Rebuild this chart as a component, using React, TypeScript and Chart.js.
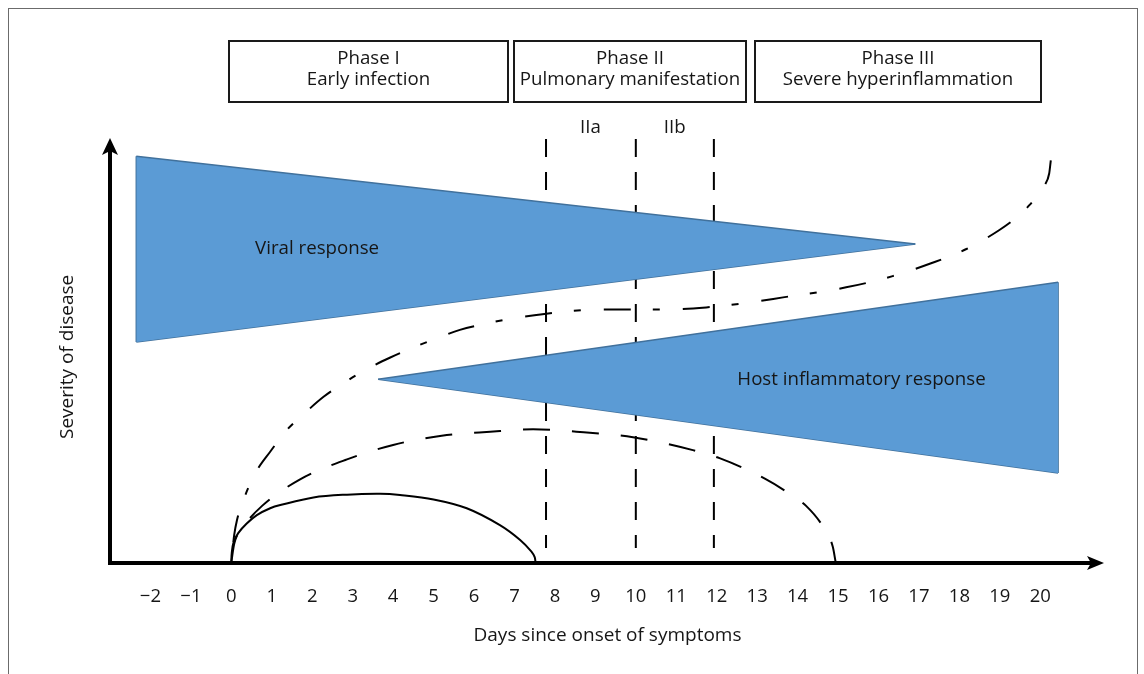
import React, { useEffect, useRef } from "react";
import { Chart, registerables } from "chart.js";

Chart.register(...registerables);

// ---- data ----
const xTickValues = [-2, -1, 0, 1, 2, 3, 4, 5, 6, 7, 8, 9, 10, 11, 12, 13, 14, 15, 16, 17, 18, 19, 20];
const xTickLabels = ["\u22122", "\u22121", "0", "1", "2", "3", "4", "5", "6", "7", "8", "9", "10", "11", "12", "13", "14", "15", "16", "17", "18", "19", "20"];

const viralX = [-2.35, 16.91];
const viralTopY = [10.12, 7.93];
const viralBottomY = [5.49, 7.93];

const hostX = [3.63, 20.44];
const hostTopY = [4.56, 6.98];
const hostBottomY = [4.56, 2.22];

const solidX = [0, 0.01, 0.05, 0.17, 0.38, 0.63, 0.96, 1.21, 2.03, 2.86, 3.68, 4.17, 5.0, 5.82, 6.64, 7.14, 7.42, 7.5, 7.52];
const solidY = [0, 0.22, 0.47, 0.72, 0.96, 1.17, 1.34, 1.42, 1.61, 1.68, 1.7, 1.67, 1.56, 1.34, 0.92, 0.55, 0.26, 0.12, 0];

const dashedX = [0, 0.07, 0.3, 0.76, 1.7, 2.86, 4.0, 5.2, 6.4, 7.46, 8.53, 9.93, 11.41, 12.07, 13.19, 13.76, 14.21, 14.63, 14.87, 14.94];
const dashedY = [0, 0.45, 0.88, 1.4, 2.06, 2.56, 2.92, 3.15, 3.25, 3.31, 3.25, 3.11, 2.79, 2.59, 2.08, 1.73, 1.4, 0.88, 0.38, 0];

const dashDotX = [0, 0.07, 0.14, 0.3, 0.59, 0.96, 1.37, 1.79, 2.28, 2.77, 3.35, 3.93, 4.5, 5.08, 5.65, 6.31, 6.97, 7.54, 8.2, 9.11, 9.93, 10.76, 11.74, 12.65, 13.64, 15.2, 16.35, 17.3, 18.16, 18.99, 19.48, 19.73, 20.11, 20.22, 20.26];
const dashDotY = [0, 0.67, 1.05, 1.55, 2.21, 2.75, 3.29, 3.69, 4.12, 4.46, 4.81, 5.1, 5.35, 5.58, 5.79, 5.95, 6.08, 6.16, 6.24, 6.3, 6.3, 6.3, 6.35, 6.45, 6.6, 6.85, 7.13, 7.45, 7.8, 8.28, 8.65, 8.9, 9.4, 9.69, 10.02];

const subphaseLineX = [7.78, 10, 11.93];
const subphaseLineY = [10.55, 0.35];
const subphaseLabels = ["IIa", "IIb"];
const subphaseLabelX = [8.88, 10.96];

const phaseTitles = ["Phase I", "Phase II", "Phase III"];
const phaseSubtitles = ["Early infection", "Pulmonary manifestation", "Severe hyperinflammation"];
const phaseStartX = [-0.05, 6.99, 12.94];
const phaseEndX = [6.84, 12.72, 20.02];

const regionLabels = ["Viral response", "Host inflammatory response"];
const regionLabelX = [2.12, 15.58];
const regionLabelY = [7.81, 4.54];

// ---- helpers ----
const pts = (xs: number[], ys: number[]) => xs.map((x, i) => ({ x, y: ys[i] }));

const FONT = "'Open Sans', 'Noto Sans', sans-serif";
const BLUE = "#5B9BD5";
const BLUE_EDGE = "#41719C";
const TEXT = "#161616";
const FS = 18.7;

const decorPlugin = {
  id: "decor",
  afterDatasetsDraw(chart: any) {
    const { ctx, chartArea, scales } = chart;
    const xs = scales.x;
    const ys = scales.y;
    ctx.save();

    // axes
    ctx.strokeStyle = "#000";
    ctx.fillStyle = "#000";
    ctx.lineWidth = 4;
    ctx.lineCap = "butt";
    const L = chartArea.left;
    const B = chartArea.bottom + 1;
    const T = chartArea.top + 1;
    const R = chartArea.right - 1;
    ctx.beginPath();
    ctx.moveTo(L - 2, B);
    ctx.lineTo(R - 12, B);
    ctx.stroke();
    ctx.beginPath();
    ctx.moveTo(L, B + 2);
    ctx.lineTo(L, T + 12);
    ctx.stroke();
    // x arrow
    ctx.beginPath();
    ctx.moveTo(R, B);
    ctx.lineTo(R - 17, B - 7);
    ctx.lineTo(R - 13, B);
    ctx.lineTo(R - 17, B + 7);
    ctx.closePath();
    ctx.fill();
    // y arrow
    ctx.beginPath();
    ctx.moveTo(L, T);
    ctx.lineTo(L - 8, T + 17);
    ctx.lineTo(L, T + 13);
    ctx.lineTo(L + 8, T + 17);
    ctx.closePath();
    ctx.fill();

    // phase boxes
    ctx.font = `${FS}px ${FONT}`;
    ctx.textAlign = "center";
    ctx.textBaseline = "middle";
    for (let i = 0; i < phaseTitles.length; i++) {
      const x0 = Math.round(xs.getPixelForValue(phaseStartX[i]));
      const x1 = Math.round(xs.getPixelForValue(phaseEndX[i]));
      const y0 = 32;
      const y1 = 93;
      ctx.lineWidth = 2;
      ctx.strokeStyle = "#1a1a1a";
      ctx.strokeRect(x0, y0, x1 - x0, y1 - y0);
      ctx.fillStyle = TEXT;
      const cx = (x0 + x1) / 2;
      ctx.fillText(phaseTitles[i], cx, 50);
      ctx.fillText(phaseSubtitles[i], cx, 71);
    }

    // sub-phase labels
    for (let i = 0; i < subphaseLabels.length; i++) {
      ctx.fillText(subphaseLabels[i], xs.getPixelForValue(subphaseLabelX[i]), ys.getPixelForValue(10.83));
    }

    // region labels
    for (let i = 0; i < regionLabels.length; i++) {
      ctx.fillText(regionLabels[i], xs.getPixelForValue(regionLabelX[i]), ys.getPixelForValue(regionLabelY[i]));
    }
    ctx.restore();
  },
};

export default function App() {
  const ref = useRef<HTMLCanvasElement>(null);

  useEffect(() => {
    if (!ref.current) return;
    Chart.defaults.font.family = FONT;

    const vlines = subphaseLineX.map((x) => ({
      data: subphaseLineY.map((y) => ({ x, y })),
      showLine: true,
      borderColor: "#000",
      borderWidth: 2,
      borderDash: [18, 15],
      pointRadius: 0,
      fill: false,
      tension: 0,
      order: 3,
      clip: false as any,
    }));

    const tri = (data: any, extra: any = {}) => ({
      data,
      showLine: true,
      borderColor: BLUE_EDGE,
      borderWidth: 1.5,
      backgroundColor: BLUE,
      pointRadius: 0,
      tension: 0,
      fill: false,
      order: 2,
      clip: false as any,
      ...extra,
    });

    const curve = (xs: number[], ys: number[], dash: number[], extra: any = {}) => ({
      data: pts(xs, ys),
      showLine: true,
      borderColor: "#000",
      borderWidth: 2,
      borderDash: dash,
      pointRadius: 0,
      cubicInterpolationMode: "monotone",
      fill: false,
      order: 1,
      clip: false as any,
      ...extra,
    });

    const chart = new Chart(ref.current, {
      type: "scatter",
      data: {
        datasets: [
          ...vlines,
          tri(pts(viralX, viralTopY), { fill: "+1" }),
          tri(pts(viralX, viralBottomY)),
          tri([{ x: viralX[0], y: viralTopY[0] }, { x: viralX[0], y: viralBottomY[0] }]),
          tri(pts(hostX, hostTopY), { fill: "+1" }),
          tri(pts(hostX, hostBottomY)),
          tri([{ x: hostX[1], y: hostTopY[1] }, { x: hostX[1], y: hostBottomY[1] }]),
          curve(solidX, solidY, [], { cubicInterpolationMode: "default", tension: 0.35 }),
          curve(dashedX, dashedY, [27, 22]),
          curve(dashDotX, dashDotY, [27, 22, 7, 23], { borderDashOffset: 59 }),
        ] as any,
      },
      options: {
        animation: false,
        responsive: false,
        maintainAspectRatio: false,
        layout: { padding: { top: 128, right: 32, left: 0, bottom: 0 } },
        plugins: {
          legend: { display: false },
          tooltip: { enabled: false },
        },
        scales: {
          x: {
            type: "linear",
            min: -3,
            max: 21.6,
            grid: { display: false, drawTicks: false },
            border: { display: false },
            afterBuildTicks: (scale: any) => {
              scale.ticks = xTickValues.map((v) => ({ value: v }));
            },
            afterFit: (scale: any) => {
              scale.height = 112;
            },
            ticks: {
              autoSkip: false,
              maxRotation: 0,
              padding: 24,
              color: TEXT,
              font: { size: 18.5, family: FONT },
              callback: (v: any) => {
                const i = xTickValues.indexOf(Number(v));
                return i >= 0 ? xTickLabels[i] : "";
              },
            },
            title: {
              display: true,
              text: "Days since onset of symptoms",
              color: TEXT,
              font: { size: 19, family: FONT },
              padding: { top: 0, bottom: 26.6 },
            },
          },
          y: {
            type: "linear",
            min: 0,
            max: 10.6,
            grid: { display: false, drawTicks: false },
            border: { display: false },
            ticks: { display: false },
            afterFit: (scale: any) => {
              scale.width = 101;
            },
            title: {
              display: true,
              text: "Severity of disease\u00a0\u00a0\u00a0",
              color: TEXT,
              font: { size: 19, family: FONT },
              padding: { top: 47.6, bottom: 0 },
            },
          },
        },
      },
      plugins: [decorPlugin],
    });
    return () => chart.destroy();
  }, []);

  return (
    <div
      style={{
        position: "fixed",
        left: 0,
        top: 0,
        width: 1144,
        height: 674,
        overflow: "hidden",
        background: "#fff",
      }}
    >
      <div
        style={{
          position: "absolute",
          left: 8,
          top: 8,
          width: 1128,
          height: 700,
          border: "1px solid #6b6b6b",
        }}
      />
      <canvas
        ref={ref}
        width={1128}
        height={665}
        style={{ position: "absolute", left: 9, top: 9, display: "block" }}
      />
    </div>
  );
}
